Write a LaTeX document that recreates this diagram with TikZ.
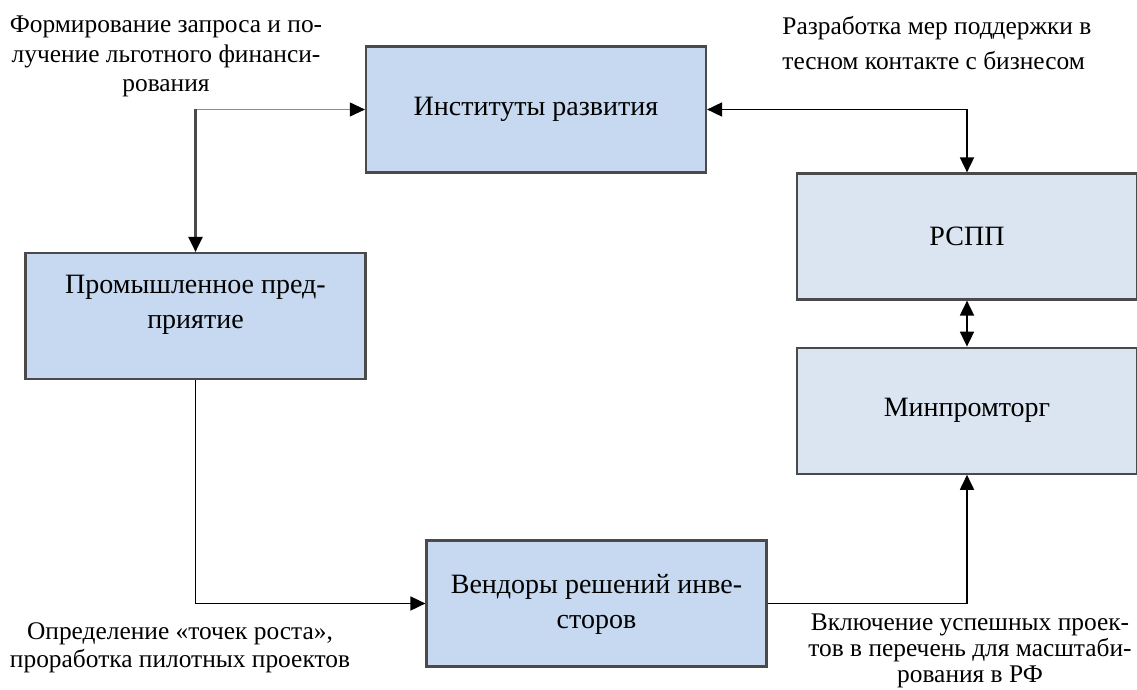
\documentclass[tikz,border=0pt]{standalone}
\usepackage{fontspec}
\setmainfont{Liberation Serif}
\usepackage{tikz}
\usetikzlibrary{
  arrows.meta, positioning
}
\definecolor{colBlue100}{HTML}{C6D9F0}
\definecolor{colBlue50} {HTML}{DBE5F1}
\definecolor{colGray700}{HTML}{4A4A4A}
\definecolor{colGray400}{HTML}{8C8C8C}
\tikzset{
  block/.style={
    draw=colGray700, line width=1.1pt,
    minimum width=170pt, minimum height=63pt,
    align=center, inner sep=4pt,
    font=\fontsize{14}{17.5}\selectfont
  },
  actor/.style ={block, fill=colBlue100},
  agency/.style={block, fill=colBlue50},
  note/.style={
    align=center, inner sep=0pt,
    font=\fontsize{12.7}{14.2}\selectfont
  },
  tip/.style={Triangle[length=7.5pt,width=7pt,color=black]},
  mainarr/.style={
    -{Triangle[length=7.5pt,width=7pt]},
    line width=0.9pt, draw=black
  },
  botharr/.style={
    {Triangle[length=7.5pt,width=7pt]}-{Triangle[length=7.5pt,width=7pt]},
    line width=0.9pt, draw=black
  },
  greyarr/.style={
    -{Triangle[length=7.5pt,width=7pt,color=black]},
    line width=1.1pt, draw=colGray700
  },
  thinarr/.style={
    -{Triangle[length=7.5pt,width=7pt,color=black]},
    line width=0.45pt, draw=colGray400
  }
}

\begin{document}
\begin{tikzpicture}[x=0.5pt, y=-0.5pt]
  \useasboundingbox (0,0) rectangle (1137,690);

  %% ── Top row: development institutions ───────────────────────────
  \node[actor] (inst) at (536,109.5) {Институты развития};

  %% ── Left column: enterprise ─────────────────────────────────────
  \node[actor] (prom) at (195.5,316) {Промышленное пред-\\приятие\\[-3pt]\mbox{}};

  %% ── Right column: RSPP, then ministry ───────────────────────────
  \node[agency] (rspp) at (967,236.5) {РСПП};
  \node[agency, below=23pt of rspp] (minp) {Минпромторг};

  %% ── Bottom row: vendors ─────────────────────────────────────────
  \node[actor] (vend) at (596.5,603.5) {\mbox{}\\[-7pt]Вендоры решений инве-\\сторов};

  %% ── Notes ────────────────────────────────────────────────────────
  \node[note, font=\fontsize{12.7}{14.8}\selectfont] (nfin) at (166,56.5)
    {Формирование запроса и по-\\лучение льготного финанси-\\рования};
  \node[note, align=left, anchor=west, font=\fontsize{12.7}{17.5}\selectfont] (nsup) at (782,43.5)
    {Разработка мер поддержки в\\тесном контакте с бизнесом};
  \node[note] (npil) at (180,648)
    {Определение «точек роста»,\\проработка пилотных проектов};
  \node[note, font=\fontsize{12.7}{13}\selectfont] (nscl) at (970,651)
    {Включение успешных проек-\\тов в перечень для масштаби-\\рования в РФ};

  %% ── Connectors ───────────────────────────────────────────────────
  \coordinate (fin) at (prom.north |- inst.west);
  \draw[thinarr] (fin) -- (inst.west);
  \draw[greyarr] (fin) -- (prom.north);

  \draw[botharr] (inst.east) -| (rspp.north);
  \draw[botharr] (rspp.south) -- (minp.north);

  % enterprise -> vendors -> ministry
  \draw[mainarr] (prom.south) |- (vend.west);
  \draw[mainarr] (vend.east) -| (minp.south);
\end{tikzpicture}
\end{document}
